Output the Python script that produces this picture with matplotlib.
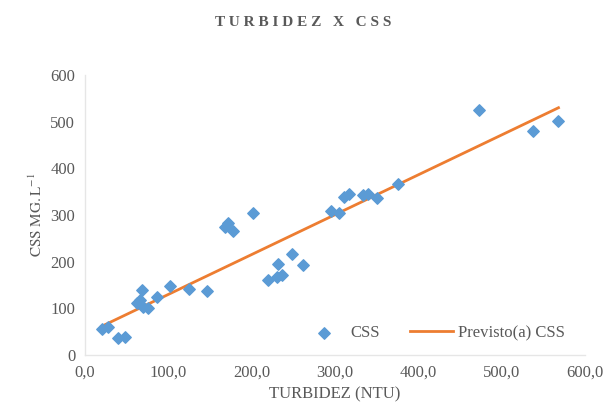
import numpy as np
import matplotlib
matplotlib.use("Agg")
import matplotlib.pyplot as plt

# data
turbidez = [20, 28, 40, 48, 62, 66, 68, 70, 76, 86, 102, 125, 146, 168, 172, 178, 202,
            220, 230, 232, 236, 248, 262, 295, 305, 311, 317, 333, 339, 350, 375,
            473, 538, 568]
css = [57, 61, 36, 39, 111, 118, 139, 103, 100, 125, 148, 141, 138, 275, 283, 266, 305,
       161, 168, 196, 171, 216, 193, 308, 304, 339, 346, 343, 345, 336, 366,
       525, 480, 502]
x_ticks = [0, 100, 200, 300, 400, 500, 600]
y_ticks = [0, 100, 200, 300, 400, 500, 600]

plt.rcParams['font.family'] = ['Liberation Serif', 'DejaVu Serif']
plt.rcParams['mathtext.fontset'] = 'stix'
grey = '#595959'

fig = plt.figure(figsize=(6.07, 4.12), dpi=100)
ax = fig.add_axes([0.14, 0.138, 0.824, 0.68])

ax.scatter(turbidez, css, marker='D', s=34, color='#5B9BD5', label='CSS', zorder=3)

# linear trend line like Excel's
coef = np.polyfit(turbidez, css, 1)
xs = np.array([min(turbidez), max(turbidez)])
ax.plot(xs, np.polyval(coef, xs), color='#ED7D31', lw=2, label='Previsto(a) CSS', zorder=2)

ax.set_xlim(0, 600)
ax.set_ylim(0, 600)
ax.set_xticks(x_ticks)
ax.set_xticklabels([f"{v:.1f}".replace('.', ',') for v in x_ticks])
ax.set_yticks(y_ticks)
ax.tick_params(length=0, colors=grey, labelsize=12, pad=7)
for s in ['top', 'right']:
    ax.spines[s].set_visible(False)
for s in ['left', 'bottom']:
    ax.spines[s].set_color('#E6E6E6')
    ax.spines[s].set_linewidth(1)

ax.set_xlabel('TURBIDEZ (NTU)', color=grey, fontsize=12, labelpad=4)
ax.set_ylabel(r'$\mathrm{CSS\ MG.L^{-1}}$', color=grey, fontsize=11, labelpad=4)
fig.text(0.5, 0.945, 'T U R B I D E Z   X   C S S', ha='center', va='center',
         color=grey, fontsize=11, fontweight='bold')

leg = fig.legend(loc='center right', bbox_to_anchor=(0.956, 0.192), ncol=2, frameon=False,
                 fontsize=12, handlelength=2.6, columnspacing=1.8, handletextpad=0.3)
for t in leg.get_texts():
    t.set_color(grey)

fig.savefig('out.png', dpi=100)
